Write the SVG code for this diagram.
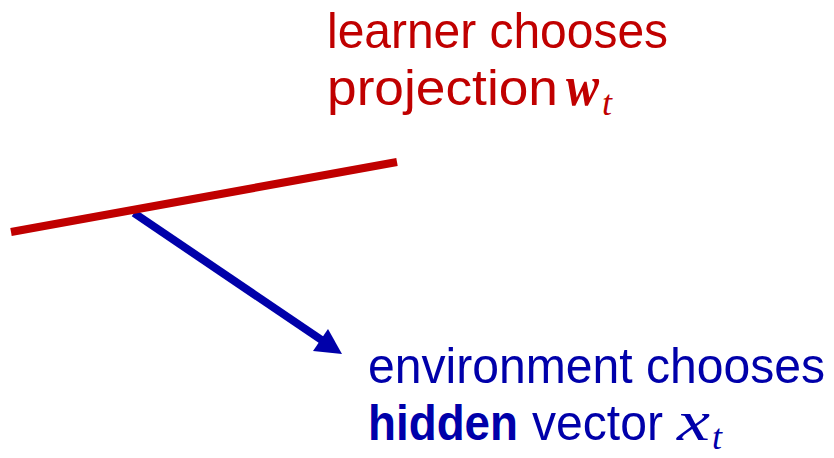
<svg xmlns="http://www.w3.org/2000/svg" width="834" height="458" viewBox="0 0 834 458">
  <style>
    .lbl { font-family: "Liberation Sans", Arial, sans-serif; font-size: 50px; }
    .red { fill: #C00000; }
    .blue { fill: #0000AA; }
    .bold { font-weight: bold; }
    .math { font-family: "Liberation Serif", "Times New Roman", serif; font-style: italic; }
  </style>
  <rect width="834" height="458" fill="#FFFFFF"/>

  <g id="connectors">
    <!-- hidden vector arrow -->
    <line x1="134" y1="213" x2="326" y2="343" stroke="#0000AA" stroke-width="8"/>
    <polygon points="342,354 313,351 328,329" fill="#0000AA"/>
  </g>

  <g id="projection-line">
    <line x1="11" y1="232" x2="397" y2="162" stroke="#C00000" stroke-width="8"/>
  </g>

  <g id="learner-label">
    <text class="lbl red" x="327" y="48" textLength="341" lengthAdjust="spacingAndGlyphs">learner chooses</text>
    <text class="lbl red" x="327" y="105" textLength="231" lengthAdjust="spacingAndGlyphs">projection</text>
    <text class="red math bold" x="566" y="105" font-size="56" textLength="33" lengthAdjust="spacingAndGlyphs">w</text>
    <text class="red math" x="602" y="115" font-size="36">t</text>
  </g>

  <g id="environment-label">
    <text class="lbl blue" x="368" y="383" textLength="457" lengthAdjust="spacingAndGlyphs">environment chooses</text>
    <text class="lbl blue bold" x="368" y="440" textLength="150" lengthAdjust="spacingAndGlyphs">hidden</text>
    <text class="lbl blue" x="532" y="440" textLength="131" lengthAdjust="spacingAndGlyphs">vector</text>
    <text class="blue math" x="677" y="440" font-size="56" textLength="33" lengthAdjust="spacingAndGlyphs">x</text>
    <text class="blue math" x="712" y="449" font-size="36">t</text>
  </g>
</svg>
